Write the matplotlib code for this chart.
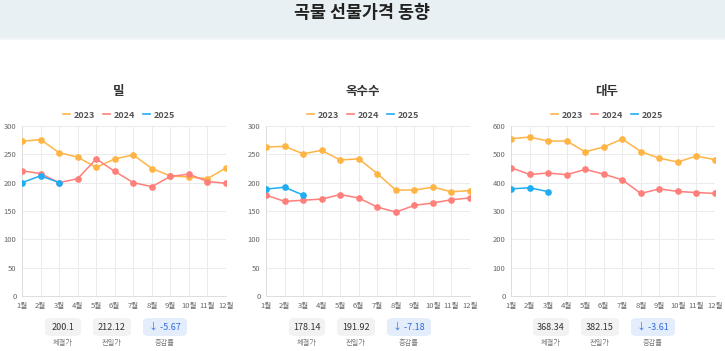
import matplotlib.pyplot as plt
from matplotlib.lines import Line2D
from matplotlib.patches import FancyBboxPatch, Rectangle

plt.rcParams['font.family'] = ['Noto Sans CJK KR', 'DejaVu Sans']

# data
months = ['1월', '2월', '3월', '4월', '5월', '6월', '7월', '8월', '9월', '10월', '11월', '12월']
years = ['2023', '2024', '2025']
titles = ['밀', '옥수수', '대두']

wheat_2023 = [273, 276, 253, 245, 227, 242, 249, 225, 212, 210, 207, 226]
wheat_2024 = [221, 216, 200, 207, 242, 220, 200, 193, 211, 215, 202, 199]
wheat_2025 = [200, 212.12, 200.1]

corn_2023 = [263, 264, 251, 257, 240, 242, 216, 187, 187, 192, 184, 186]
corn_2024 = [178, 167, 169, 171, 179, 173, 157, 148, 160, 164, 170, 173]
corn_2025 = [188.6, 191.92, 178.14]

soy_2023 = [555, 561, 547, 547, 509, 526, 554, 510, 486, 473, 494, 481]
soy_2024 = [453, 429, 434, 428, 447, 430, 410, 362, 378, 369, 365, 362]
soy_2025 = [378, 382.15, 368.34]

y_max = [300, 300, 600]
y_step = [50, 50, 100]

close_price = ['200.1', '178.14', '368.34']
prev_price = ['212.12', '191.92', '382.15']
change_rate = ['-5.67', '-7.18', '-3.61']

series = [
    [wheat_2023, wheat_2024, wheat_2025],
    [corn_2023, corn_2024, corn_2025],
    [soy_2023, soy_2024, soy_2025],
]
colors = ['#FFB546', '#FF7F7A', '#1FADF5']

W, H = 725, 351
fig = plt.figure(figsize=(W / 100, H / 100), dpi=100)
fig.patch.set_facecolor('white')

# header band
fig.patches.append(Rectangle((0, 1 - 38 / H), 1, 38 / H, transform=fig.transFigure,
                             facecolor='#E9F0F3', edgecolor='none', zorder=0))
fig.patches.append(Rectangle((0, 1 - 40 / H), 1, 2 / H, transform=fig.transFigure,
                             facecolor='#F3F6F8', edgecolor='none', zorder=0))
fig.text(362 / W, 1 - 13 / H, '곡물 선물가격 동향', ha='center', va='center',
         fontsize=12.5, fontweight='bold', color='#222222')

ax_left = [22, 266, 511]
ax_w = 204
ax_top, ax_bot = 126, 296
centers = [119, 363, 607]

for i in range(3):
    ax = fig.add_axes([ax_left[i] / W, 1 - ax_bot / H, ax_w / W, (ax_bot - ax_top) / H])
    x = list(range(12))
    for s, c in zip(series[i], colors):
        ax.plot(x[:len(s)], s, color=c, lw=1.1, marker='o', ms=3.8, zorder=3)
    ax.set_xlim(0, 11)
    ax.set_ylim(0, y_max[i])
    ax.set_xticks(x)
    ax.set_xticklabels(months)
    ax.set_yticks(range(0, y_max[i] + 1, y_step[i]))
    ax.tick_params(length=0, labelsize=5.5, colors='#666666', pad=4)
    ax.grid(True, color='#EBEBEB', lw=0.7)
    for side in ['top', 'right']:
        ax.spines[side].set_visible(False)
    for side in ['left', 'bottom']:
        ax.spines[side].set_color('#DDDDDD')
        ax.spines[side].set_linewidth(0.7)

    fig.text(centers[i] / W, 1 - 92 / H, titles[i], ha='center', va='center',
             fontsize=9, fontweight='bold', color='#333333')

    handles = [Line2D([], [], color=c, lw=1.2) for c in colors]
    leg = fig.legend(handles, years, loc='center', bbox_to_anchor=(centers[i] / W, 1 - 115 / H),
                     ncol=3, frameon=False, handlelength=0.8, handletextpad=0.4,
                     columnspacing=0.9, prop={'size': 6.5, 'weight': 'bold'})
    for t in leg.get_texts():
        t.set_color('#555555')

    # value boxes
    gc = centers[i] - 4
    boxes = [(gc - 52, 36, close_price[i], '체결가', '#F2F2F2', '#333333'),
             (gc - 3, 38, prev_price[i], '전일가', '#F2F2F2', '#333333'),
             (gc + 50, 44, '↓ ' + change_rate[i], '증감률', '#E3EDFC', '#2F6BE0')]
    for cx, bw, val, lab, fc, tc in boxes:
        bh = 18
        fig.patches.append(FancyBboxPatch(((cx - bw / 2) / W, 1 - 336 / H), bw / W, bh / H,
                                          boxstyle='round,pad=0,rounding_size=0.01',
                                          transform=fig.transFigure, facecolor=fc,
                                          edgecolor='none', zorder=1))
        fig.text(cx / W, 1 - 327 / H, val, ha='center', va='center',
                 fontsize=6.5, color=tc, zorder=2)
        fig.text(cx / W, 1 - 343 / H, lab, ha='center', va='center',
                 fontsize=5.2, color='#777777')

fig.savefig('out.png', dpi=100)
